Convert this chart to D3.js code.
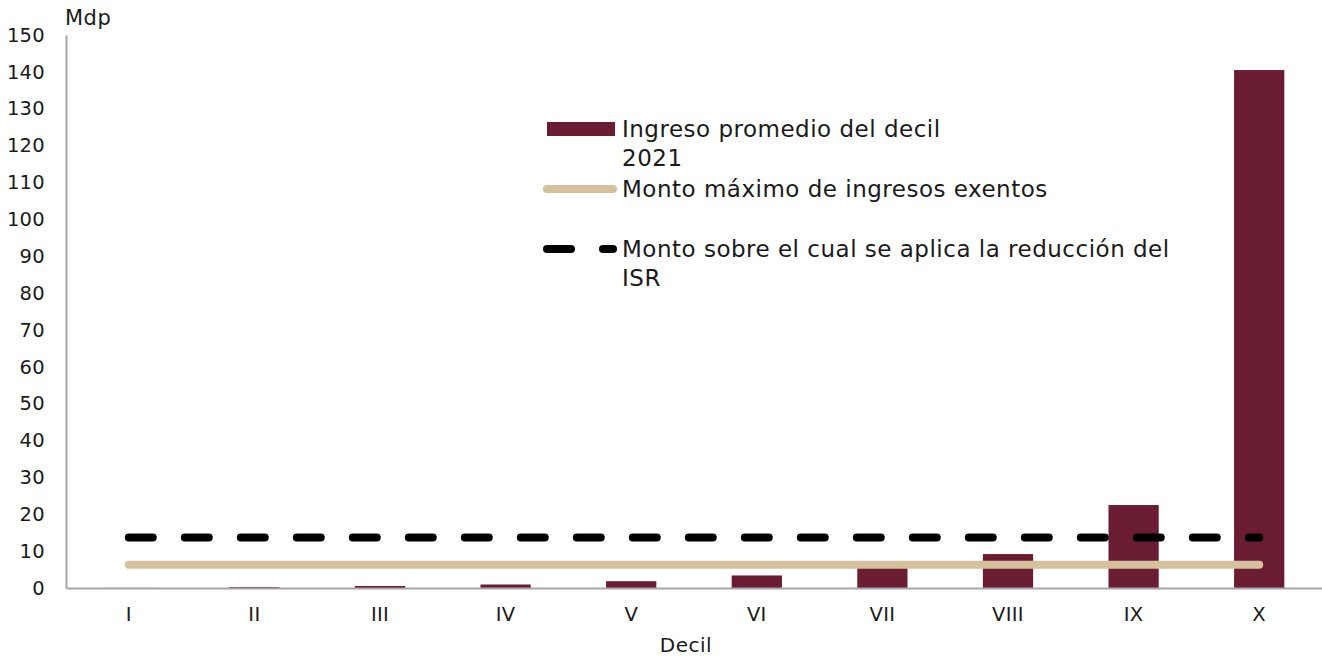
<!DOCTYPE html>
<html>
<head>
<meta charset="utf-8">
<script src="https://cdn.jsdelivr.net/npm/d3@7"></script>
<style>
  body { margin: 0; background: #fff; }
  svg text { font-family: "DejaVu Sans", sans-serif; fill: #1a1a1a; }
  .tick text { font-size: 19.5px; letter-spacing: 0.3px; }
  .legend-text { font-size: 23px; letter-spacing: 0.5px; }
</style>
</head>
<body>
<svg id="chart" width="1322" height="656"></svg>
<script>
// deciles and values (miles de pesos)
var deciles = ["I", "II", "III", "IV", "V", "VI", "VII", "VIII", "IX", "X"];
var ingreso = [0.03, 0.25, 0.55, 0.95, 1.85, 3.4, 6.0, 9.2, 22.5, 140.5];
var montoExento = [6.3, 6.3, 6.3, 6.3, 6.3, 6.3, 6.3, 6.3, 6.3, 6.3];
var montoReduccion = [13.7, 13.7, 13.7, 13.7, 13.7, 13.7, 13.7, 13.7, 13.7, 13.7];
var yTicks = [0, 10, 20, 30, 40, 50, 60, 70, 80, 90, 100, 110, 120, 130, 140, 150];

var barColor = "#6a1d32";
var beige = "#d5c19b";
var axisColor = "#a6a6a6";

var svg = d3.select("#chart");
var plotLeft = 66, plotRight = 1322, plotTop = 35, plotBottom = 588;

var x = d3.scaleBand().domain(deciles).range([plotLeft, plotRight])
    .paddingInner(0.6).paddingOuter(0.3);
var y = d3.scaleLinear().domain([0, 150]).range([plotBottom, plotTop]);

// y axis
var yAxis = svg.append("g")
    .attr("transform", "translate(" + plotLeft + ",0)")
    .call(d3.axisLeft(y).tickValues(yTicks).tickSize(0).tickPadding(21));
yAxis.select(".domain").attr("stroke", axisColor).attr("stroke-width", 2);
yAxis.selectAll(".tick text").attr("fill", "#1a1a1a");

// bars
svg.selectAll("rect.bar")
    .data(ingreso)
    .enter()
    .append("rect")
    .attr("class", "bar")
    .attr("x", function (d, i) { return x(deciles[i]); })
    .attr("width", x.bandwidth())
    .attr("y", function (d) { return y(d); })
    .attr("height", function (d) { return y(0) - y(d); })
    .attr("fill", barColor);

// x axis
var xAxis = svg.append("g")
    .attr("transform", "translate(0," + plotBottom + ")")
    .call(d3.axisBottom(x).tickSize(0).tickSizeOuter(0).tickPadding(19));
xAxis.select(".domain").attr("stroke", axisColor).attr("stroke-width", 2);
xAxis.selectAll(".tick text").attr("fill", "#1a1a1a");

var cx = function (d, i) { return x(deciles[i]) + x.bandwidth() / 2; };

// beige line
svg.append("path")
    .datum(montoExento)
    .attr("d", d3.line().x(cx).y(function (d) { return y(d); }))
    .attr("fill", "none")
    .attr("stroke", beige)
    .attr("stroke-width", 8)
    .attr("stroke-linecap", "round");

// dashed line
svg.append("path")
    .datum(montoReduccion)
    .attr("d", d3.line().x(cx).y(function (d) { return y(d); }))
    .attr("fill", "none")
    .attr("stroke", "#000")
    .attr("stroke-width", 8)
    .attr("stroke-linecap", "round")
    .attr("stroke-dasharray", "24,32");

// axis titles
svg.append("text").attr("x", 65).attr("y", 25).style("font-size", "21px")
    .style("letter-spacing", "0.5px").text("Mdp");
svg.append("text").attr("x", 686).attr("y", 652).style("font-size", "20px")
    .style("letter-spacing", "0.5px").style("text-anchor", "middle").text("Decil");

// legend
var lg = svg.append("g");
lg.append("rect").attr("x", 547).attr("y", 122).attr("width", 68).attr("height", 14).attr("fill", barColor);
lg.append("line").attr("x1", 547).attr("x2", 613).attr("y1", 189).attr("y2", 189)
    .attr("stroke", beige).attr("stroke-width", 8).attr("stroke-linecap", "round");
lg.append("line").attr("x1", 547).attr("x2", 613).attr("y1", 249).attr("y2", 249)
    .attr("stroke", "#000").attr("stroke-width", 8).attr("stroke-linecap", "round")
    .attr("stroke-dasharray", "24,32");

var legendLines = [
    ["Ingreso promedio del decil", 137],
    ["2021", 166],
    ["Monto máximo de ingresos exentos", 197],
    ["Monto sobre el cual se aplica la reducción del", 257],
    ["ISR", 286]
];
lg.selectAll("text.legend-text")
    .data(legendLines)
    .enter()
    .append("text")
    .attr("class", "legend-text")
    .attr("x", 622)
    .attr("y", function (d) { return d[1]; })
    .text(function (d) { return d[0]; });
</script>
</body>
</html>
